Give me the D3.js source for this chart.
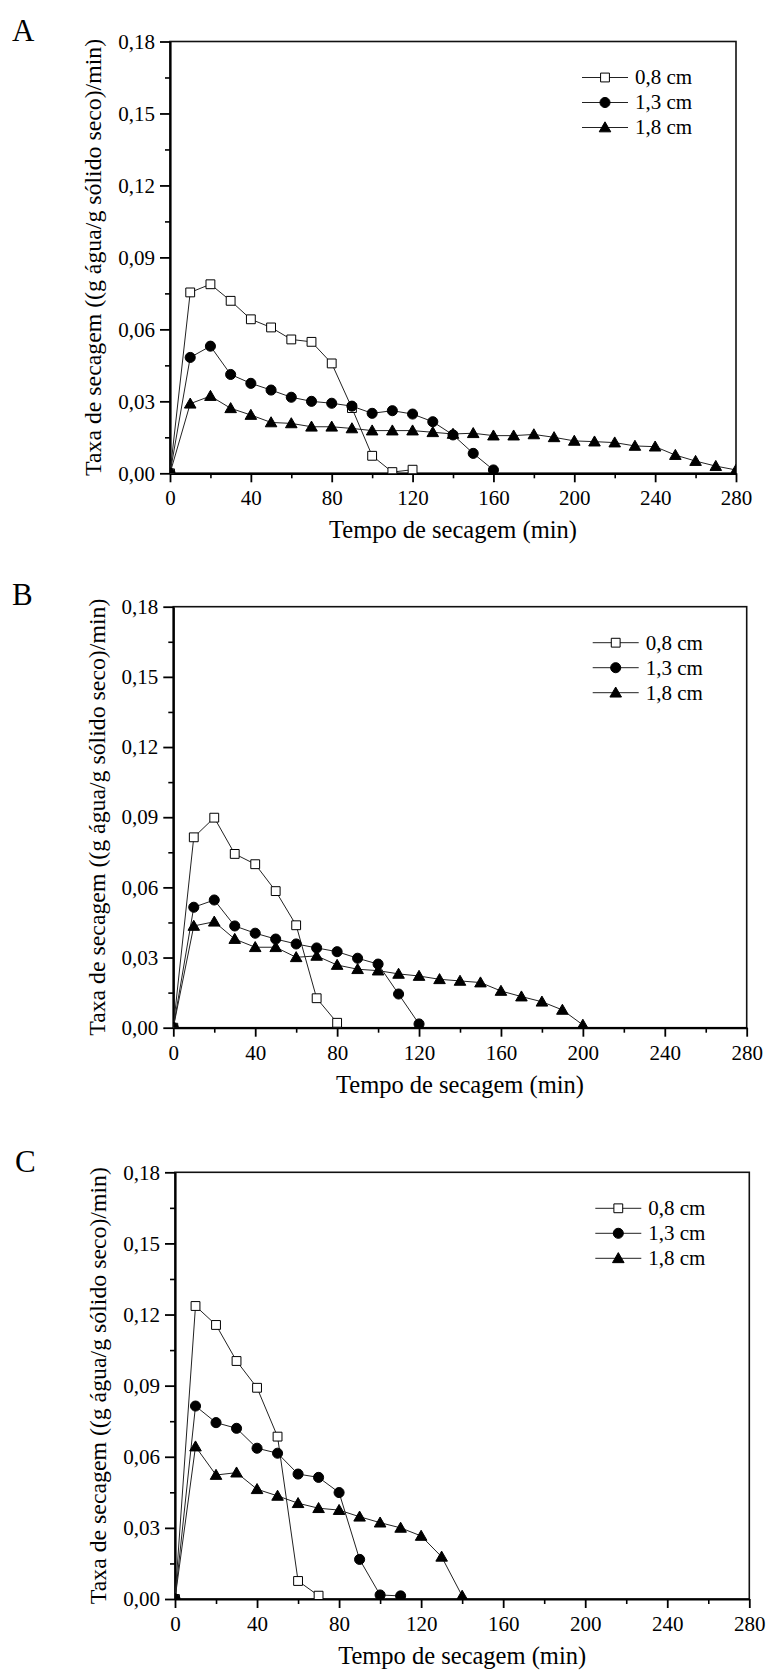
<!DOCTYPE html>
<html>
<head>
<meta charset="utf-8">
<script src="https://cdn.jsdelivr.net/npm/d3@7"></script>
<style>
body { margin: 0; background: #fff; }
svg text { font-family: "Liberation Serif", "Times New Roman", serif; fill: #000; }
</style>
</head>
<body>
<svg id="chart" width="768" height="1672"></svg>
<script>
// ---- data ----
var seriesNames = ["0,8 cm", "1,3 cm", "1,8 cm"];
var yTicks = [0, 0.03, 0.06, 0.09, 0.12, 0.15, 0.18];
var yMinor = [0.015, 0.045, 0.075, 0.105, 0.135, 0.165];
var xTicks = [0, 40, 80, 120, 160, 200, 240, 280];
var xMinor = [20, 60, 100, 140, 180, 220, 260];

// panel A
var timeA08 = [0, 10, 20, 30, 40, 50, 60, 70, 80, 90, 100, 110, 120];
var rateA08 = [0, 0.0754, 0.0788, 0.0719, 0.0642, 0.0608, 0.0558, 0.0548, 0.0458, 0.0272, 0.0073, 0.0005, 0.0015];
var timeA13 = [0, 10, 20, 30, 40, 50, 60, 70, 80, 90, 100, 110, 120, 130, 140, 150, 160];
var rateA13 = [0, 0.0483, 0.0530, 0.0412, 0.0375, 0.0347, 0.0317, 0.0300, 0.0292, 0.0280, 0.0250, 0.0261, 0.0247, 0.0215, 0.0160, 0.0083, 0.0014];
var timeA18 = [0, 10, 20, 30, 40, 50, 60, 70, 80, 90, 100, 110, 120, 130, 140, 150, 160, 170, 180, 190, 200, 210, 220, 230, 240, 250, 260, 270, 280];
var rateA18 = [0, 0.0290, 0.0322, 0.0271, 0.0243, 0.0212, 0.0208, 0.0194, 0.0194, 0.0187, 0.0178, 0.0178, 0.0178, 0.0171, 0.0164, 0.0167, 0.0157, 0.0157, 0.0162, 0.0150, 0.0135, 0.0132, 0.0128, 0.0114, 0.0111, 0.0076, 0.0051, 0.0030, 0.0014];

// panel B
var timeB08 = [0, 10, 20, 30, 40, 50, 60, 70, 80];
var rateB08 = [0, 0.0814, 0.0898, 0.0743, 0.0699, 0.0584, 0.0438, 0.0126, 0.0021];
var timeB13 = [0, 10, 20, 30, 40, 50, 60, 70, 80, 90, 100, 110, 120];
var rateB13 = [0, 0.0515, 0.0546, 0.0435, 0.0404, 0.0379, 0.0358, 0.0341, 0.0325, 0.0297, 0.0272, 0.0144, 0.0016];
var timeB18 = [0, 10, 20, 30, 40, 50, 60, 70, 80, 90, 100, 110, 120, 130, 140, 150, 160, 170, 180, 190, 200];
var rateB18 = [0, 0.0435, 0.0453, 0.0379, 0.0344, 0.0344, 0.0301, 0.0307, 0.0268, 0.0250, 0.0244, 0.0230, 0.0221, 0.0207, 0.0200, 0.0193, 0.0157, 0.0133, 0.0111, 0.0076, 0.0012];

// panel C
var timeC08 = [0, 10, 20, 30, 40, 50, 60, 70];
var rateC08 = [0, 0.1236, 0.1156, 0.1004, 0.0891, 0.0685, 0.0076, 0.0014];
var timeC13 = [0, 10, 20, 30, 40, 50, 60, 70, 80, 90, 100, 110];
var rateC13 = [0, 0.0814, 0.0744, 0.0720, 0.0636, 0.0615, 0.0527, 0.0513, 0.0449, 0.0167, 0.0017, 0.0013];
var timeC18 = [0, 10, 20, 30, 40, 50, 60, 70, 80, 90, 100, 110, 120, 130, 140];
var rateC18 = [0, 0.0643, 0.0523, 0.0533, 0.0463, 0.0435, 0.0404, 0.0383, 0.0375, 0.0347, 0.0322, 0.0300, 0.0266, 0.0178, 0.0013];

// ---- layout ----
var panels = [
    { id: "A", left: 170, top: 41.5, right: 736, bottom: 473.3, lx: 12, ly: 41,
      series: [[timeA08, rateA08], [timeA13, rateA13], [timeA18, rateA18]] },
    { id: "B", left: 173.3, top: 606.7, right: 746.7, bottom: 1027.7, lx: 12, ly: 605,
      series: [[timeB08, rateB08], [timeB13, rateB13], [timeB18, rateB18]] },
    { id: "C", left: 175, top: 1172.3, right: 749.3, bottom: 1599, lx: 15, ly: 1172,
      series: [[timeC08, rateC08], [timeC13, rateC13], [timeC18, rateC18]] }
];

var svg = d3.select("#chart");
svg.append("rect").attr("width", 768).attr("height", 1672).style("fill", "white");

var fmt = function(d) { return d3.format(".2f")(d).replace(".", ","); };

var symbols = [d3.symbolSquare, d3.symbolCircle, d3.symbolTriangle];
var symSize = [78, 80, 58];
var symFill = ["white", "black", "black"];

function drawMarker(g, k, x, y) {
    g.append("path")
        .attr("d", d3.symbol().type(symbols[k]).size(symSize[k])())
        .attr("transform", "translate(" + x + "," + (k == 2 ? y + 1 : y) + ")")
        .style("fill", symFill[k])
        .style("stroke", "black")
        .style("stroke-width", 1);
}

panels.forEach(function(p) {
    var x = d3.scaleLinear().domain([0, 280]).range([p.left, p.right]);
    var y = d3.scaleLinear().domain([0, 0.18]).range([p.bottom, p.top]);
    var g = svg.append("g").attr("class", "panel-" + p.id);

    // clip to the plot frame
    g.append("clipPath").attr("id", "clip" + p.id)
        .append("rect")
        .attr("x", p.left).attr("y", p.top)
        .attr("width", p.right - p.left).attr("height", p.bottom - p.top);

    // frame (top / right)
    g.append("rect")
        .attr("x", p.left).attr("y", p.top)
        .attr("width", p.right - p.left).attr("height", p.bottom - p.top)
        .style("fill", "none").style("stroke", "#111").style("stroke-width", 1.6);

    // minor ticks
    g.append("g").attr("transform", "translate(" + p.left + ",0)")
        .call(d3.axisLeft(y).tickValues(yMinor).tickSize(5).tickFormat(""))
        .call(function(a) { a.select(".domain").remove(); })
        .selectAll("line").style("stroke-width", 1.6);
    g.append("g").attr("transform", "translate(0," + p.bottom + ")")
        .call(d3.axisBottom(x).tickValues(xMinor).tickSize(5).tickFormat(""))
        .call(function(a) { a.select(".domain").remove(); })
        .selectAll("line").style("stroke-width", 1.6);

    // major axes
    var ya = g.append("g").attr("transform", "translate(" + p.left + ",0)")
        .call(d3.axisLeft(y).tickValues(yTicks).tickFormat(fmt).tickSize(10).tickPadding(5).tickSizeOuter(0));
    var xa = g.append("g").attr("transform", "translate(0," + p.bottom + ")")
        .call(d3.axisBottom(x).tickValues(xTicks).tickFormat(d3.format("d")).tickSize(9).tickPadding(8).tickSizeOuter(0));
    [ya, xa].forEach(function(a) {
        a.select(".domain").style("stroke-width", 2.2);
        a.selectAll("line").style("stroke-width", 1.8);
        a.selectAll("text").style("font-size", "21px");
    });

    // axis titles
    g.append("text")
        .attr("transform", "translate(" + (p.left - 77) + "," + ((p.top + p.bottom) / 2) + ") rotate(-90)")
        .attr("text-anchor", "middle")
        .attr("dy", "0.35em")
        .style("font-size", "23.8px")
        .text("Taxa de secagem ((g água/g sólido seco)/min)");
    g.append("text")
        .attr("x", (p.left + p.right) / 2)
        .attr("y", p.bottom + 65)
        .attr("text-anchor", "middle")
        .style("font-size", "24.5px")
        .text("Tempo de secagem (min)");

    // panel letter
    g.append("text").attr("x", p.lx).attr("y", p.ly)
        .style("font-size", "31px").text(p.id);

    // series
    var plot = g.append("g").attr("clip-path", "url(#clip" + p.id + ")");
    var line = d3.line().x(function(d) { return x(d[0]); }).y(function(d) { return y(d[1]); });
    p.series.forEach(function(s, k) {
        var pts = s[0].map(function(t, i) { return [t, s[1][i]]; });
        plot.append("path").datum(pts).attr("d", line)
            .style("fill", "none").style("stroke", "#222").style("stroke-width", 1);
    });
    p.series.forEach(function(s, k) {
        s[0].forEach(function(t, i) { drawMarker(plot, k, x(t), y(s[1][i])); });
    });

    // legend
    var lg = g.append("g");
    seriesNames.forEach(function(name, k) {
        var ry = p.top + 36 + k * 25;
        lg.append("line")
            .attr("x1", p.right - 154).attr("x2", p.right - 108)
            .attr("y1", ry).attr("y2", ry)
            .style("stroke", "#222").style("stroke-width", 1);
        drawMarker(lg, k, p.right - 131, ry);
        lg.append("text").attr("x", p.right - 101).attr("y", ry).attr("dy", "0.33em")
            .style("font-size", "21px").text(name);
    });
});
</script>
</body>
</html>
